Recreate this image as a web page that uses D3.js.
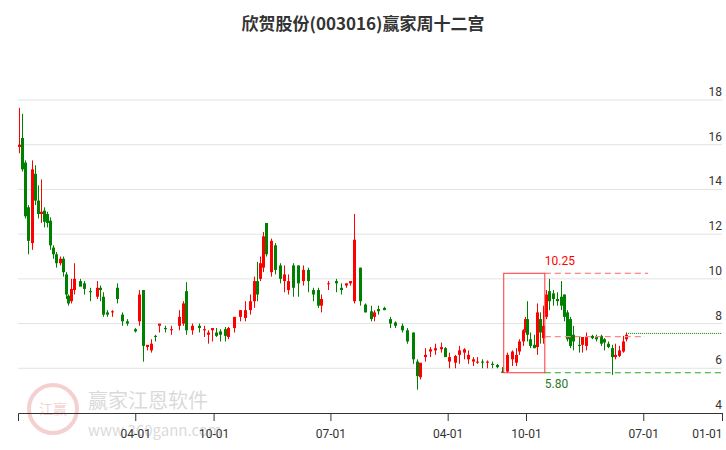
<!DOCTYPE html>
<html><head><meta charset="utf-8">
<script src="https://cdn.jsdelivr.net/npm/d3@7"></script>
<style>body{margin:0;background:#fff;font-family:"Noto Sans CJK SC","Noto Sans",sans-serif}</style>
</head><body><svg id="c" width="726" height="450"></svg>
<script>
// candles: date, open, high, low, close
const dates = ["2020-07-03","2020-07-10","2020-07-17","2020-07-24","2020-08-03","2020-08-10","2020-08-17","2020-08-24","2020-08-31","2020-09-07",
  "2020-09-14","2020-09-21","2020-09-28","2020-10-06","2020-10-13","2020-10-20","2020-10-27","2020-11-03","2020-11-10","2020-11-24",
  "2020-12-03","2020-12-17","2021-01-02","2021-01-09","2021-01-16","2021-01-26","2021-02-05","2021-02-17","2021-03-01","2021-03-12",
  "2021-03-31","2021-04-09","2021-04-18","2021-04-28","2021-05-07","2021-05-16","2021-05-26","2021-06-09","2021-06-23","2021-07-12",
  "2021-07-22","2021-07-29","2021-08-11","2021-08-27","2021-09-08","2021-09-19","2021-09-28","2021-10-07","2021-10-17","2021-10-28",
  "2021-11-04","2021-11-18","2021-12-02","2021-12-14","2021-12-24","2022-01-03","2022-01-10","2022-01-17","2022-01-24","2022-01-31",
  "2022-02-12","2022-02-21","2022-03-05","2022-03-14","2022-03-24","2022-04-04","2022-04-16","2022-04-28","2022-05-09","2022-05-21",
  "2022-06-01","2022-06-08","2022-06-25","2022-07-14","2022-07-25","2022-08-06","2022-08-15","2022-08-24","2022-09-07","2022-09-19",
  "2022-10-03","2022-10-12","2022-10-21","2022-11-04","2022-11-18","2022-11-30","2022-12-16","2022-12-28","2023-01-09","2023-01-20",
  "2023-01-27","2023-02-08","2023-02-19","2023-03-03","2023-03-17","2023-03-26","2023-04-05","2023-04-19","2023-04-28","2023-05-10",
  "2023-05-19","2023-05-31","2023-06-09","2023-06-21","2023-07-02","2023-07-14","2023-07-25","2023-08-06","2023-08-17","2023-08-29",
  "2023-09-07","2023-09-14","2023-09-24","2023-09-28","2023-10-03","2023-10-10","2023-10-19","2023-10-26","2023-11-02","2023-11-09",
  "2023-11-16","2023-11-23","2023-12-03","2023-12-12","2023-12-21","2023-12-28","2024-01-04","2024-01-11","2024-01-18","2024-02-01",
  "2024-02-08","2024-02-19","2024-03-04","2024-03-13","2024-03-25","2024-04-01","2024-04-10","2024-04-19","2024-04-26","2024-05-06",
  "2024-05-14","2024-05-22"];
const opens  = [15.9,16.3,15.2,13.2,11.6,14.7,13.5,12.9,13.05,12.9,12.6,11.4,11.1,10.7,10.9,10.2,9.25,9.0,9.5,9.9,9.8,9.45,9.2,9.6,9.2,8.5,8.5,9.6,8.4,8.1,
  7.75,8.1,9.5,6.95,6.8,7.45,7.9,7.8,7.7,7.9,8.0,9.45,7.7,7.9,7.7,7.5,7.7,7.6,7.65,7.75,
  7.4,7.8,8.3,8.25,8.6,9.0,9.9,10.0,10.5,12.5,10.3,11.5,10.6,9.9,9.5,10.6,10.6,9.9,10.4,9.5,
  9.5,8.8,9.8,9.9,9.6,9.7,9.8,9.0,10.5,8.85,8.55,8.3,8.65,8.7,8.2,8.05,7.9,7.7,7.6,6.3,
  5.6,6.5,6.75,6.8,6.85,6.9,6.3,6.25,6.6,6.7,6.4,6.3,6.25,6.3,6.25,6.2,6.15,5.85,5.85,6.4,
  6.25,6.75,7.2,7.7,8.2,7.3,7.05,6.95,8.2,7.35,8.3,9.45,9.35,9.1,9.2,9.3,8.5,8.2,7.5,7.05,
  7.05,7.0,7.45,7.4,7.45,7.3,7.1,6.9,6.5,6.55,6.75,7.3];
const highs  = [17.65,17.38,15.3,13.3,15.3,15.08,14.18,14.45,13.2,13.0,12.75,11.5,11.2,11.0,11.0,10.3,9.3,10.0,10.7,10.0,9.9,9.6,9.9,9.7,9.4,8.6,8.6,9.8,8.5,8.2,
  7.8,9.5,9.5,7.0,7.3,7.5,7.9,7.9,7.9,8.6,9.0,9.85,8.0,8.0,7.9,7.7,7.8,7.8,7.75,7.85,
  7.85,8.2,8.6,9.0,9.3,10.1,10.76,11.0,12.1,12.5,11.8,11.6,10.7,10.6,10.2,10.7,10.6,10.6,10.5,9.6,
  9.6,9.3,9.9,10.0,9.8,9.8,9.9,12.9,10.5,8.9,8.8,8.6,8.8,8.75,8.3,8.1,8.0,7.8,7.6,6.4,
  6.2,6.9,6.95,7.1,7.15,6.95,6.7,6.6,7.0,6.9,6.8,6.5,6.5,6.4,6.35,6.3,6.2,6.05,6.7,6.8,
  6.9,7.3,7.75,8.3,9.0,7.6,7.5,8.9,8.5,8.8,9.5,10.0,9.5,9.4,9.9,9.3,8.6,8.3,7.9,7.4,
  7.3,7.6,7.5,7.5,7.5,7.35,7.2,7.05,7.1,7.0,7.45,7.6];
const lows   = [15.62,14.8,12.7,11.1,11.3,13.3,12.7,12.5,12.3,12.3,11.3,10.9,10.5,10.6,10.1,9.1,8.8,8.9,9.3,9.7,9.3,9.0,9.1,9.0,8.3,8.3,8.3,8.9,7.9,7.9,
  7.6,7.9,6.3,6.8,6.7,7.2,7.6,7.6,7.5,7.7,7.9,7.5,7.5,7.6,7.4,7.1,7.2,7.4,7.2,7.2,
  7.3,7.6,8.1,8.1,8.4,8.7,9.0,9.9,10.3,11.0,10.1,10.2,9.8,9.4,9.3,9.2,9.2,9.7,9.4,9.0,
  8.7,8.5,9.5,9.4,9.3,9.6,9.7,8.9,8.8,8.5,8.1,8.1,8.4,8.6,7.8,7.8,7.6,7.1,6.2,5.04,
  5.5,6.3,6.5,6.6,6.7,6.6,6.0,6.0,6.2,6.4,6.2,6.1,6.2,6.0,6.0,6.0,6.0,5.8,5.8,6.1,
  6.1,6.6,7.0,7.6,7.2,6.9,6.9,6.6,7.1,7.1,8.2,8.6,8.8,8.8,8.6,8.1,7.2,6.9,6.8,6.7,
  6.7,6.8,7.3,7.2,7.0,6.8,6.9,5.7,6.4,6.5,6.7,7.2];
const closes = [16.0,14.9,12.8,11.7,14.9,13.5,12.9,13.0,12.55,12.5,11.5,11.1,10.7,10.9,10.3,9.3,8.9,9.55,10.0,9.65,9.55,9.4,9.6,9.5,8.4,8.4,8.55,9.1,8.1,8.0,
  7.65,9.3,7.0,7.05,7.1,7.4,8.0,7.75,7.75,8.3,8.9,7.7,7.9,7.8,7.75,7.6,7.8,7.45,7.5,7.45,
  7.8,8.3,8.6,8.6,9.0,9.9,9.3,10.7,11.9,11.1,11.7,10.4,10.0,10.2,9.9,9.6,9.8,10.4,9.9,9.3,
  8.8,9.1,9.8,9.8,9.5,9.8,9.9,11.75,9.0,8.5,8.2,8.5,8.55,8.6,8.0,7.9,7.7,7.2,6.4,5.65,
  6.25,6.6,6.85,6.9,6.95,6.5,6.5,6.55,6.8,6.85,6.6,6.4,6.3,6.25,6.3,6.15,6.05,5.8,6.6,6.75,
  6.6,7.2,7.7,8.2,7.5,7.0,6.9,8.5,7.6,7.9,9.3,9.0,9.1,9.0,8.8,8.3,7.3,7.0,7.2,7.0,
  7.4,7.4,7.35,7.3,7.1,7.15,6.95,6.5,6.6,6.8,7.2,7.5];
const yTicks = [4, 6, 8, 10, 12, 14, 16, 18];
const xTickDates = ["2021-04-01","2021-10-01","2022-07-01","2023-04-01","2023-10-01","2024-07-01","2025-01-01"];
const boxStart = "2023-08-10", boxEnd = "2023-11-14";
const boxHigh = 10.25, boxLow = 5.80, midLevel = 7.42, lastLevel = 7.56;

const parse = d3.timeParse("%Y-%m-%d");
const candles = dates.map((d, i) => ({date: parse(d), o: opens[i], h: highs[i], l: lows[i], c: closes[i]}));

const svg = d3.select("#c");
const x = d3.scaleTime().domain([parse("2020-07-01"), parse("2025-01-01")]).range([18, 722]);
const y = d3.scaleLinear().domain([4, 18]).range([413, 100]);
const up = "#f00", down = "#008000";

// watermark
const wm = svg.append("g").attr("opacity", 0.18);
wm.append("circle").attr("cx", 53).attr("cy", 409).attr("r", 24).attr("fill", "none").attr("stroke", "#c00").attr("stroke-width", 4);
wm.append("text").attr("x", 53).attr("y", 414).attr("text-anchor", "middle").attr("font-size", 14).attr("fill", "#c00").text("江赢");
wm.append("text").attr("x", 88).attr("y", 408).attr("font-size", 20).attr("fill", "#333").text("赢家江恩软件");
wm.append("text").attr("x", 88).attr("y", 436).attr("font-size", 15).attr("fill", "#333").text("www.360gann.com");

// grid + right labels
yTicks.forEach(t => {
  if (t > 4) svg.append("line").attr("x1", 18).attr("x2", 722).attr("y1", y(t)).attr("y2", y(t)).attr("stroke", "#e3e3e3");
  svg.append("text").attr("x", 722).attr("y", y(t) - 4).attr("text-anchor", "end").attr("font-size", 12)
    .attr("fill", "#333").attr("font-family", "Roboto, sans-serif").text(t);
});

// x axis
const xAxis = d3.axisBottom(x).tickValues(xTickDates.map(parse)).tickFormat(d3.timeFormat("%m-%d")).tickSizeOuter(0).tickSize(8);
const ax = svg.append("g").attr("transform", "translate(0,413)").call(xAxis);
ax.select(".domain").attr("stroke", "#333");
ax.selectAll(".tick line").attr("stroke", "#333");
ax.selectAll("text").attr("font-size", 12).attr("fill", "#333").attr("font-family", "Roboto, sans-serif").attr("dy", "1.2em");
ax.selectAll(".tick:last-of-type text").attr("text-anchor", "end");

// candles
const w = 3;
const g = svg.append("g");
candles.forEach(d => {
  const col = d.c >= d.o ? up : down;
  const cx = Math.round(x(d.date)) + 0.5;
  g.append("line").attr("x1", cx).attr("x2", cx).attr("y1", y(d.h)).attr("y2", y(d.l)).attr("stroke", col);
  g.append("rect").attr("x", cx - w / 2).attr("width", w)
    .attr("y", y(Math.max(d.o, d.c))).attr("height", Math.max(1, Math.abs(y(d.o) - y(d.c)))).attr("fill", col);
});

// annotations
const bx0 = x(parse(boxStart)), bx1 = x(parse(boxEnd));
svg.append("rect").attr("x", bx0).attr("y", y(boxHigh)).attr("width", bx1 - bx0).attr("height", y(boxLow) - y(boxHigh))
  .attr("fill", "none").attr("stroke", "#f33").attr("stroke-width", 1);
svg.append("line").attr("x1", bx1).attr("x2", 648).attr("y1", y(boxHigh)).attr("y2", y(boxHigh))
  .attr("stroke", "#f66").attr("stroke-width", 1.2).attr("stroke-dasharray", "6,4");
svg.append("line").attr("x1", bx1).attr("x2", 645).attr("y1", y(midLevel)).attr("y2", y(midLevel))
  .attr("stroke", "#f88").attr("stroke-width", 1.2).attr("stroke-dasharray", "6,4");
svg.append("line").attr("x1", bx1).attr("x2", 722).attr("y1", y(boxLow)).attr("y2", y(boxLow))
  .attr("stroke", "#2a2").attr("stroke-width", 1.2).attr("stroke-dasharray", "6,4");
svg.append("line").attr("x1", x(candles[candles.length - 1].date)).attr("x2", 722).attr("y1", y(lastLevel)).attr("y2", y(lastLevel))
  .attr("stroke", "#080").attr("stroke-width", 1).attr("stroke-dasharray", "1,1");
svg.append("text").attr("x", bx1).attr("y", y(boxHigh) - 8).attr("font-size", 12).attr("fill", "#f00")
  .attr("font-family", "Roboto, sans-serif").text(boxHigh.toFixed(2));
svg.append("text").attr("x", bx1).attr("y", y(boxLow) + 15).attr("font-size", 12).attr("fill", "#2a7a2a")
  .attr("font-family", "Roboto, sans-serif").text(boxLow.toFixed(2));

svg.append("text").attr("x", 363).attr("y", 30).attr("text-anchor", "middle").attr("font-size", 17).attr("font-weight", "bold")
  .attr("fill", "#333").text("欣贺股份(003016)赢家周十二宫");
</script></body></html>
